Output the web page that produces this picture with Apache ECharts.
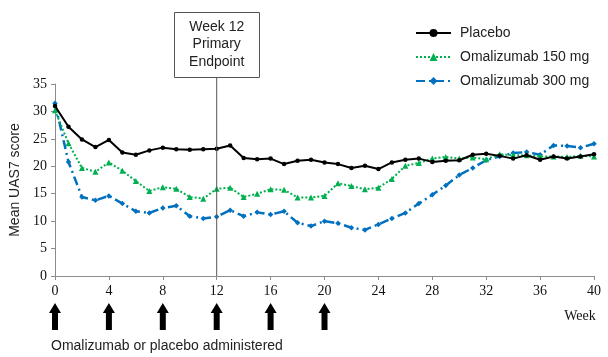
<!DOCTYPE html>
<html><head><meta charset="utf-8">
<script src="https://cdn.jsdelivr.net/npm/echarts@6/dist/echarts.min.js"></script>
<style>html,body{margin:0;padding:0;background:#fff}#c{width:608px;height:357px}</style>
</head><body><div id="c"></div>
<script>
const weeks = [0,1,2,3,4,5,6,7,8,9,10,11,12,13,14,15,16,17,18,19,20,21,22,23,24,25,26,27,28,29,30,31,32,33,34,35,36,37,38,39,40];
const placebo = [31.0,27.2,24.9,23.5,24.8,22.5,22.1,22.9,23.4,23.1,23.0,23.1,23.2,23.8,21.5,21.3,21.4,20.4,21.0,21.2,20.7,20.4,19.7,20.1,19.5,20.7,21.2,21.4,20.8,21.0,21.1,22.1,22.3,21.9,21.4,22.0,21.2,21.8,21.4,21.8,22.2];
const oma150 = [30.2,24.2,19.7,19.0,20.7,19.2,17.3,15.5,16.2,15.9,14.4,14.1,15.9,16.1,14.4,15.0,15.8,15.7,14.3,14.3,14.6,16.9,16.4,15.8,16.1,17.7,20.1,20.6,21.4,21.7,21.4,21.6,21.3,22.2,22.0,22.0,21.8,21.8,21.7,21.9,21.8];
const oma300 = [31.5,20.8,14.4,13.8,14.6,13.2,11.8,11.5,12.4,12.8,10.9,10.5,10.8,12.0,10.9,11.6,11.2,11.8,9.7,9.1,10.0,9.6,8.8,8.4,9.4,10.5,11.5,13.2,14.8,16.5,18.4,19.7,21.1,21.8,22.4,22.6,22.1,23.8,23.7,23.4,24.1];
const seriesNames = ['Placebo','Omalizumab 150 mg','Omalizumab 300 mg'];
const doseWeeks = [0,4,8,12,16,20];
const endpointWeek = 12;
const endpointLines = ['Week 12','Primary','Endpoint'];
const xLabelName = 'Week';
const yAxisName = 'Mean UAS7 score';
const footnote = 'Omalizumab or placebo administered';

const pair = arr => weeks.map((w,i)=>[w,arr[i]]);
const chart = echarts.init(document.getElementById('c'), null, {renderer:'canvas'});
const serif = 'Liberation Serif';
const sans = 'Liberation Sans';
chart.setOption({
  animation:false,
  grid:{left:55,right:14,top:84,bottom:81},
  legend:{
    orient:'vertical', left:410, top:21, itemWidth:35, itemHeight:10, itemGap:10,
    data:seriesNames,
    textStyle:{fontFamily:sans,fontSize:14,color:'#222',padding:[0,0,0,4]}
  },
  xAxis:{type:'value',min:0,max:40,interval:4,
    axisLine:{lineStyle:{color:'#8c8c8c',width:1}},
    axisTick:{show:true,length:4,lineStyle:{color:'#8c8c8c'}},
    splitLine:{show:false},
    axisLabel:{fontFamily:serif,fontSize:14,color:'#111',margin:8}},
  yAxis:{type:'value',min:0,max:35,interval:5,
    name:yAxisName,nameLocation:'middle',nameGap:33,
    nameTextStyle:{fontFamily:sans,fontSize:14,color:'#222'},
    axisLine:{show:true,lineStyle:{color:'#8c8c8c',width:1}},
    axisTick:{show:true,length:4,lineStyle:{color:'#8c8c8c'}},
    splitLine:{show:false},
    axisLabel:{fontFamily:serif,fontSize:14,color:'#111',margin:8}},
  series:[
    {name:seriesNames[0],type:'line',data:pair(placebo),z:5,
     symbol:'circle',symbolSize:4.5,color:'#000',
     lineStyle:{color:'#000',width:2},itemStyle:{color:'#000'}},
    {name:seriesNames[1],type:'line',data:pair(oma150),z:4,
     symbol:'triangle',symbolSize:6,color:'#00b050',
     lineStyle:{color:'#00b050',width:2,type:[2,2]},itemStyle:{color:'#00b050'}},
    {name:seriesNames[2],type:'line',data:pair(oma300),z:3,
     symbol:'diamond',symbolSize:5.5,color:'#0070c0',
     lineStyle:{color:'#0070c0',width:2.5,type:[9,4,2,4]},itemStyle:{color:'#0070c0'}}
  ]
});

const xp = w => chart.convertToPixel({xAxisIndex:0}, w);
const yp = v => chart.convertToPixel({yAxisIndex:0}, v);
const g = [];
const ex = xp(endpointWeek);
const boxW = 85, boxTop = 12, boxH = 65;
g.push({type:'line',shape:{x1:ex,y1:boxTop+boxH,x2:ex,y2:yp(0)},style:{stroke:'#555',lineWidth:1},z:10});
g.push({type:'rect',shape:{x:Math.round(ex-boxW/2)+0.5,y:boxTop+0.5,width:boxW,height:boxH},style:{fill:'#fff',stroke:'#555',lineWidth:1},z:10});
endpointLines.forEach((t,i)=>{
  g.push({type:'text',x:ex,y:boxTop+15+i*17.5,style:{text:t,fill:'#222',font:'14px '+sans,textAlign:'center',textVerticalAlign:'middle'},z:11});
});
doseWeeks.forEach(w=>{
  const cx = xp(w);
  const top = 303, bot = 330, hw = 6, sw = 3, hh = 10;
  g.push({type:'polygon',shape:{points:[[cx,top],[cx+hw,top+hh],[cx+sw,top+hh],[cx+sw,bot],[cx-sw,bot],[cx-sw,top+hh],[cx-hw,top+hh]]},style:{fill:'#000'},z:10});
});
g.push({type:'text',x:xp(40)-14,y:316,style:{text:xLabelName,fill:'#111',font:'14px '+serif,textAlign:'center',textVerticalAlign:'middle'}});
g.push({type:'text',x:51,y:346,style:{text:footnote,fill:'#222',font:'14px '+sans,textAlign:'left',textVerticalAlign:'middle'}});
chart.setOption({graphic:g});
</script></body></html>
